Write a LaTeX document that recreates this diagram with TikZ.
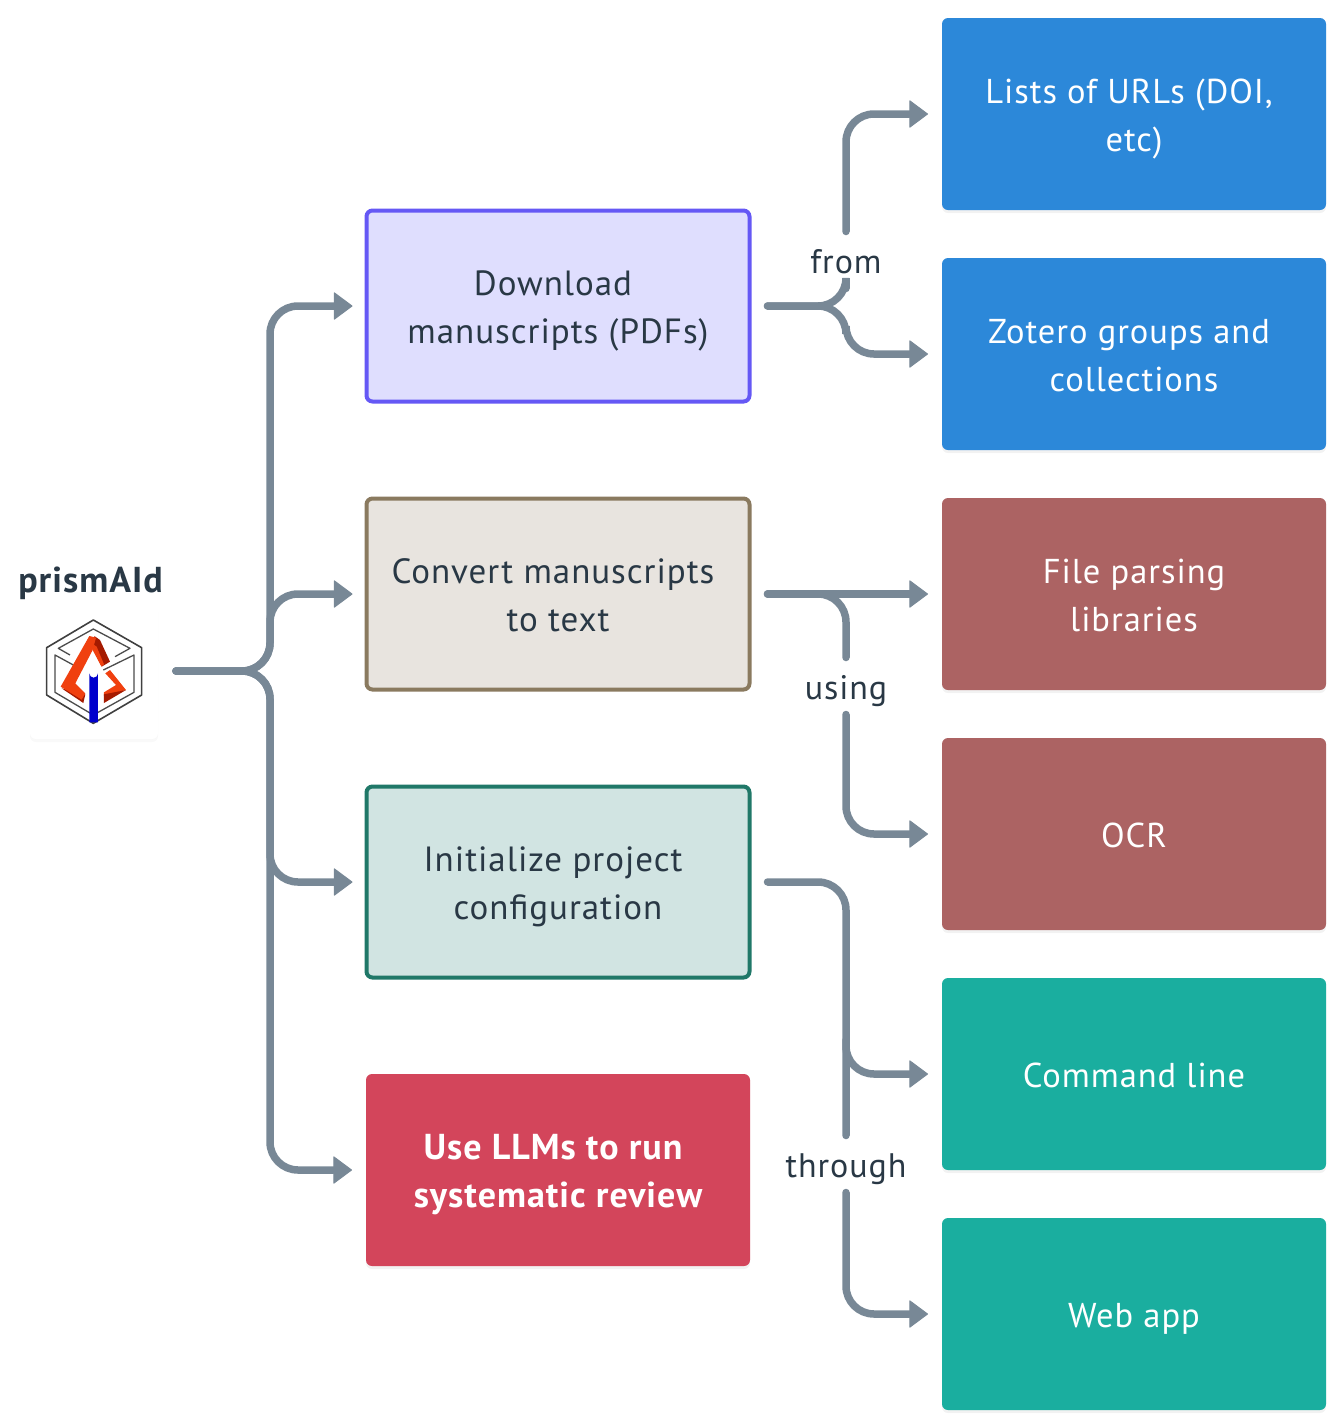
\documentclass[tikz,border=0pt]{standalone}
\usepackage{fontspec}
\setmainfont[LetterSpace=2.8]{PT Sans}
\usetikzlibrary{arrows.meta,shadows}

\definecolor{inkc}{HTML}{293845}
\definecolor{linkc}{HTML}{788896}
\definecolor{bluec}{HTML}{2C88D9}
\definecolor{brickc}{HTML}{AC6363}
\definecolor{tealc}{HTML}{1AAE9F}
\definecolor{redc}{HTML}{D3455B}
\definecolor{purplec}{HTML}{6558F5}
\definecolor{purplef}{HTML}{DFDEFE}
\definecolor{sandc}{HTML}{8A7A5F}
\definecolor{sandf}{HTML}{E8E4DF}
\definecolor{pinec}{HTML}{207868}
\definecolor{pinef}{HTML}{D1E4E2}
\definecolor{logoa}{HTML}{F0400F}
\definecolor{logob}{HTML}{A51A00}

\newcommand{\trail}{\hspace*{10pt}}
\newcommand{\tstrut}{\rule[-11pt]{0pt}{48pt}}

\tikzset{
  basebox/.style={rectangle, rounded corners=6pt, minimum width=384pt, minimum height=192pt,
    align=center, inner sep=0pt, outer sep=0pt, font=\fontsize{35}{48}\selectfont},
  solidbox/.style={basebox, fill=#1, text=white, font=\fontsize{34.5}{48}\selectfont,
    drop shadow={opacity=0.1, shadow xshift=0pt, shadow yshift=-3pt}},
  linebox/.style n args={2}{basebox, draw=#1, fill=#2, line width=4pt, text=inkc,
    minimum width=383pt, minimum height=191pt},
  conn/.style={draw=linkc, line width=7.5pt, line cap=round, rounded corners=28pt},
  tobox/.style={-{Triangle[length=19pt,width=28pt,line width=1pt,round]}, shorten >=14pt},
  frombox/.style={shorten <=18pt},
  lbl/.style={inner sep=0pt, outer sep=0pt, minimum height=57pt, text height=29pt, text depth=3pt,
    text=inkc, font=\fontsize{34}{48}\selectfont},
}

\begin{document}
\begin{tikzpicture}[x=1pt, y=-1pt]
\useasboundingbox (0,0) rectangle (1344,1428);

% Logo
\node[rectangle, rounded corners=6pt, fill=white, minimum width=128pt, minimum height=136pt,
  outer sep=0pt, drop shadow={opacity=0.05, shadow xshift=0pt, shadow yshift=-3pt}] (logo) at (94,671) {};
\node[text=inkc, inner sep=0pt, font=\fontsize{36}{40}\selectfont\bfseries] (title) at (90.5,583.5) {prismAId};

\begin{scope}[shift={(30,605)}, x=0.3333pt, y=-0.3333pt, line join=round]
\draw[black!75, line width=1.6pt] (190,45) -- (335,128) -- (335,270) -- (190,355) -- (50,270) -- (50,128) -- cycle;
\draw[black!70, line width=1.3pt] (120,150) -- (85,130) -- (190,72) -- (300,130) -- (255,155);
\draw[black!70, line width=1.3pt] (130,180) -- (75,150) -- (75,262) -- (190,330) -- (312,262) -- (312,150) -- (220,195);
% red chevron
\fill[logob] (193,93) -- (210,105) -- (240,170) -- (215,185) -- (190,135) -- cycle;
\fill[logoa] (190,118) -- (200,125) -- (222,178) -- (214,184) -- (188,135) -- cycle;
\fill[logoa] (240,195) -- (288,255) -- (222,272) -- (222,262) -- (258,240) -- (226,205) -- cycle;
\fill[logob] (288,255) -- (222,294) -- (222,268) -- cycle;
\fill[logob] (95,250) -- (160,294) -- (166,268) -- cycle;
\fill[logoa] (178,93) -- (198,98) -- (188,135) -- (136,235) -- (166,265) -- (155,284) -- (92,245) -- cycle;
\fill[blue!80!black] (178,205) arc[start angle=180, end angle=0, x radius=13, y radius=13] -- (204,352) -- (178,352) -- cycle;
\end{scope}

% Middle column
\node[linebox={purplec}{purplef}] (download) at (558,306) {\tstrut Download\trail\\manuscripts (PDFs)\tstrut};
\node[linebox={sandc}{sandf}] (convert) at (558,594) {\tstrut Convert manuscripts\trail\\to text\tstrut};
\node[linebox={pinec}{pinef}] (init) at (558,882) {\tstrut Initialize project\trail\\configuration\tstrut};
\node[solidbox=redc, font=\fontsize{36}{48}\selectfont\bfseries] (review) at (558,1170) {\tstrut Use LLMs to run\trail\\systematic review\tstrut};

% Right column
\node[solidbox=bluec] (urls) at (1134,114) {\tstrut Lists of URLs (DOI,\trail\\etc)\tstrut};
\node[solidbox=bluec] (zotero) at (1134,354) {\tstrut Zotero groups and\trail\\collections\tstrut};
\node[solidbox=brickc] (parsing) at (1134,594) {\tstrut File parsing\\libraries\tstrut};
\node[solidbox=brickc] (ocr) at (1134,834) {\tstrut OCR};
\node[solidbox=tealc] (cmdline) at (1134,1074) {\tstrut Command line};
\node[solidbox=tealc] (webapp) at (1134,1314) {\tstrut Web app};

% Labels on the links
\node[lbl] (from) at (846,260) {from};
\node[lbl] (using) at (846,686) {using};
\node[lbl] (through) at (846,1164) {through};
\coordinate (cmdfork) at (846,1040);

% Links from the logo
\foreach \target in {download,convert,init,review} {
\draw[conn,frombox,tobox] (logo.east) -- (270,671) -- (270,0 |- \target.west) -- (\target.west);
}

% Links of the first box
\draw[conn,frombox] (download.east) -- (846,306) -- (from.south);
\draw[conn,tobox] (from.north) -- (846,114) -- (urls.west);
\draw[conn,frombox,tobox] (download.east) -- (846,306) -- (846,354) -- (zotero.west);

% Links of the second box
\draw[conn,frombox,tobox] (convert.east) -- (parsing.west);
\draw[conn,frombox] (convert.east) -- (846,594) -- (using.north);
\draw[conn,tobox] (using.south) -- (846,834) -- (ocr.west);

% Links of the third box
\draw[conn,frombox] (init.east) -- (846,882) -- (through.north);
\draw[conn,tobox] (cmdfork) -- (846,1074) -- (cmdline.west);
\draw[conn,tobox] (through.south) -- (846,1314) -- (webapp.west);

\end{tikzpicture}
\end{document}
